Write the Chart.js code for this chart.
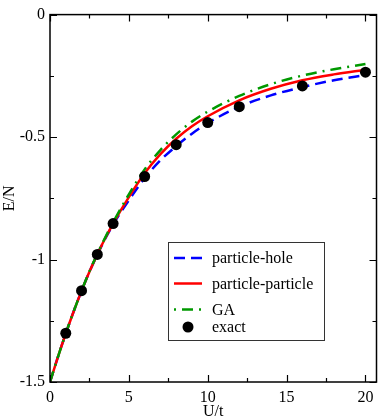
<!DOCTYPE html>
<html lang="en">
<head>
  <meta charset="UTF-8" />
  <title>E/N vs U/t</title>
  <script src="https://cdn.jsdelivr.net/npm/chart.js"></script>
  <style>
    html, body { margin: 0; padding: 0; background: #fff; }
    canvas { display: block; }
  </style>
</head>
<body>
  <canvas id="chart" width="382" height="420"></canvas>

  <script>
    // curve grid (U/t)
    const uCurve = [0, 0.5, 1, 1.5, 2, 2.5, 3, 3.5, 4, 5, 6, 7, 8, 9, 10, 12, 14, 16, 18, 20];
    const particleHole = [-1.5, -1.398, -1.302, -1.212, -1.128, -1.050, -0.980, -0.915, -0.857,
      -0.758, -0.668, -0.595, -0.537, -0.486, -0.443, -0.376, -0.330, -0.296, -0.268, -0.247];
    const particleParticle = [-1.5, -1.398, -1.302, -1.212, -1.128, -1.050, -0.979, -0.913, -0.853,
      -0.745, -0.648, -0.570, -0.507, -0.456, -0.415, -0.350, -0.303, -0.268, -0.244, -0.225];
    const gaCurve = [-1.5, -1.398, -1.302, -1.212, -1.127, -1.048, -0.977, -0.910, -0.848,
      -0.734, -0.632, -0.553, -0.489, -0.437, -0.396, -0.332, -0.284, -0.249, -0.223, -0.202];

    // exact results
    const uExact = [1, 2, 3, 4, 6, 8, 10, 12, 16, 20];
    const eExact = [-1.301, -1.127, -0.979, -0.853, -0.661, -0.531, -0.441, -0.376, -0.291, -0.235];

    const xTicks = [0, 5, 10, 15, 20];
    const yTicks = [-1.5, -1, -0.5, 0];

    const serif = '"Liberation Serif", "DejaVu Serif", serif';

    function pts(xs, ys) {
      return xs.map((x, i) => ({ x: x, y: ys[i] }));
    }

    // inward ticks + frame on all four sides
    const framePlugin = {
      id: 'frame',
      afterDatasetsDraw(chart) {
        const { ctx, chartArea: a, scales } = chart;
        const xs = scales.x, ys = scales.y;
        ctx.save();
        ctx.strokeStyle = '#000';
        ctx.lineWidth = 1.5;
        ctx.strokeRect(a.left, a.top, a.right - a.left, a.bottom - a.top);
        ctx.lineWidth = 1.2;
        ctx.beginPath();
        for (let v = 0; v <= 20.01; v += 2.5) {
          const len = (v % 5 === 0) ? 7 : 4;
          const px = Math.round(xs.getPixelForValue(v)) + 0.5;
          ctx.moveTo(px, a.bottom); ctx.lineTo(px, a.bottom - len);
          ctx.moveTo(px, a.top); ctx.lineTo(px, a.top + len);
        }
        for (let v = -1.5; v <= 0.001; v += 0.25) {
          const len = (Math.abs(v * 2 - Math.round(v * 2)) < 1e-6) ? 7 : 4;
          const py = Math.round(ys.getPixelForValue(v)) + 0.5;
          ctx.moveTo(a.left, py); ctx.lineTo(a.left + len, py);
          ctx.moveTo(a.right, py); ctx.lineTo(a.right - len, py);
        }
        ctx.stroke();
        ctx.restore();
      }
    };

    // boxed legend inside the plot
    const legendPlugin = {
      id: 'boxLegend',
      afterDraw(chart) {
        const ctx = chart.ctx;
        const ds = chart.data.datasets;
        const order = [3, 2, 1, 0];
        const rowsY = [258, 283.5, 309.5, 327];
        ctx.save();
        ctx.fillStyle = '#fff';
        ctx.fillRect(168.5, 242.5, 156, 98);
        ctx.strokeStyle = '#333';
        ctx.lineWidth = 1;
        ctx.strokeRect(168.5, 242.5, 156, 98);
        ctx.font = '16px ' + serif;
        ctx.textBaseline = 'middle';
        order.forEach((idx, i) => {
          const d = ds[idx];
          const y = rowsY[i];
          if (d.showLine === false) {
            ctx.fillStyle = d.pointBackgroundColor;
            ctx.beginPath();
            ctx.arc(188, y, d.pointRadius, 0, Math.PI * 2);
            ctx.fill();
          } else {
            ctx.strokeStyle = d.borderColor;
            ctx.lineWidth = d.borderWidth;
            ctx.setLineDash(d.legendDash || d.borderDash || []);
            ctx.beginPath();
            ctx.moveTo(174, y); ctx.lineTo(202, y);
            ctx.stroke();
            ctx.setLineDash([]);
          }
          ctx.fillStyle = '#000';
          ctx.fillText(d.label, 212, y + 1);
        });
        ctx.restore();
      }
    };

    const lineDefaults = { showLine: true, pointRadius: 0, fill: false, cubicInterpolationMode: 'monotone', borderWidth: 2.5 };

    new Chart(document.getElementById('chart').getContext('2d'), {
      type: 'scatter',
      data: {
        datasets: [
          { label: 'exact', data: pts(uExact, eExact), showLine: false, pointRadius: 5.5,
            pointBackgroundColor: '#000', pointBorderColor: '#000', pointBorderWidth: 0, order: 0 },
          Object.assign({ label: 'GA', data: pts(uCurve, gaCurve), borderColor: '#009900',
            borderDash: [11, 6, 2, 6], legendDash: [2, 6, 11, 6], order: 1 }, lineDefaults),
          Object.assign({ label: 'particle-particle', data: pts(uCurve, particleParticle), borderColor: '#ff0000',
            order: 2 }, lineDefaults),
          Object.assign({ label: 'particle-hole', data: pts(uCurve, particleHole), borderColor: '#0000ff',
            borderDash: [11, 6], order: 3 }, lineDefaults)
        ]
      },
      options: {
        responsive: false,
        animation: false,
        layout: { padding: { top: 6, right: 5, left: 0, bottom: 0 } },
        plugins: { legend: { display: false }, tooltip: { enabled: false } },
        scales: {
          x: {
            type: 'linear', min: 0, max: 20.7,
            grid: { display: false, drawTicks: false },
            border: { display: false },
            afterBuildTicks: s => { s.ticks = xTicks.map(v => ({ value: v })); },
            afterFit: s => { s.height = 38; },
            ticks: { color: '#000', padding: 6, maxRotation: 0, font: { family: serif, size: 16 },
              callback: v => String(v) },
            title: { display: true, text: 'U/t', color: '#000', padding: 0,
              font: { family: serif, size: 16, lineHeight: 1 } }
          },
          y: {
            type: 'linear', min: -1.5, max: 0,
            grid: { display: false, drawTicks: false },
            border: { display: false },
            afterBuildTicks: s => { s.ticks = yTicks.map(v => ({ value: v })); },
            afterFit: s => { s.width = 50; },
            ticks: { color: '#000', padding: 5, font: { family: serif, size: 16 },
              callback: v => String(v) },
            title: { display: true, text: 'E/N', color: '#000', padding: 0, font: { family: serif, size: 16 } }
          }
        }
      },
      plugins: [framePlugin, legendPlugin]
    });
  </script>
</body>
</html>
